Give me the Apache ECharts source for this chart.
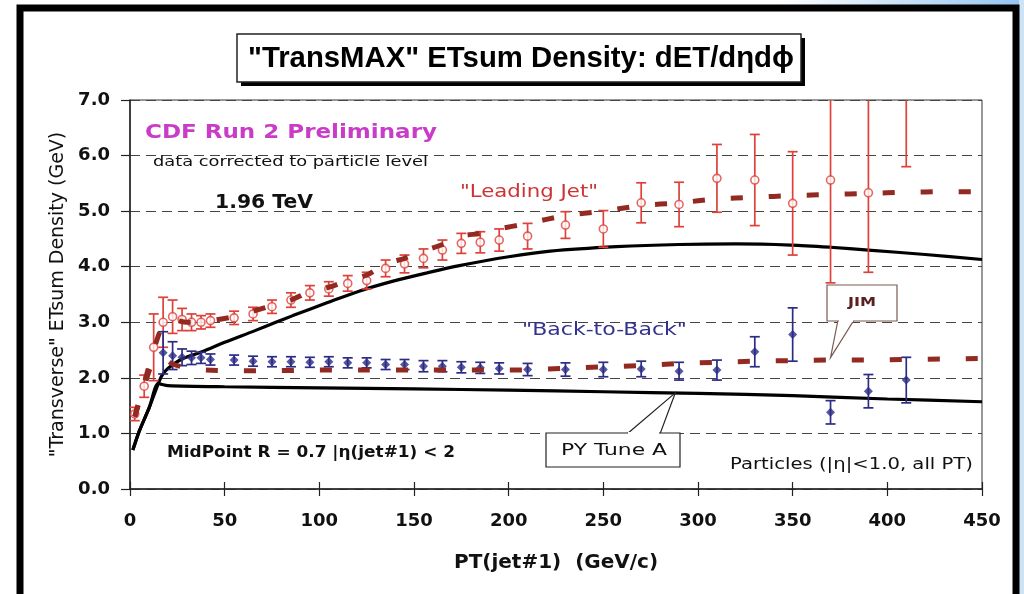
<!DOCTYPE html>
<html>
<head>
<meta charset="utf-8">
<script src="https://cdn.jsdelivr.net/npm/echarts@6/dist/echarts.min.js"></script>
<style>
  html, body { margin: 0; padding: 0; background: #fff; }
  #chart { width: 1024px; height: 594px; }
</style>
</head>
<body>
<div id="chart"></div>
<script>
// ---- data -------------------------------------------------------------
// "Leading Jet" sample: PT(jet#1) bin centres, density, lower / upper uncertainty
const leadPt     = [2.5, 7.5, 12.5, 17.5, 22.5, 27.5, 32.5, 37.5, 42.5, 55, 65, 75, 85, 95, 105, 115, 125, 135, 145, 155, 165, 175, 185, 195, 210, 230, 250, 270, 290, 310, 330, 350, 370, 390, 410];
const leadVal    = [1.35, 1.85, 2.55, 3.00, 3.10, 3.05, 3.00, 3.00, 3.03, 3.08, 3.15, 3.28, 3.40, 3.53, 3.60, 3.70, 3.75, 3.97, 4.05, 4.15, 4.30, 4.42, 4.44, 4.48, 4.55, 4.75, 4.68, 5.15, 5.12, 5.59, 5.56, 5.14, 5.56, 5.33, 7.60];
const leadErrLo  = [0.12, 0.20, 0.60, 0.45, 0.30, 0.20, 0.15, 0.12, 0.12, 0.12, 0.12, 0.12, 0.13, 0.13, 0.13, 0.14, 0.15, 0.15, 0.16, 0.17, 0.18, 0.18, 0.19, 0.20, 0.23, 0.24, 0.33, 0.36, 0.40, 0.61, 0.82, 0.93, 1.85, 1.43, 1.80];
const leadErrHi  = [0.12, 0.20, 0.60, 0.45, 0.30, 0.20, 0.15, 0.12, 0.12, 0.12, 0.12, 0.12, 0.13, 0.13, 0.13, 0.14, 0.15, 0.15, 0.16, 0.17, 0.18, 0.18, 0.19, 0.20, 0.23, 0.24, 0.33, 0.36, 0.40, 0.61, 0.82, 0.93, 1.85, 2.10, 1.80];

// "Back-to-Back" sample
const b2bPt  = [17.5, 22.5, 27.5, 32.5, 37.5, 42.5, 55, 65, 75, 85, 95, 105, 115, 125, 135, 145, 155, 165, 175, 185, 195, 210, 230, 250, 270, 290, 310, 330, 350, 370, 390, 410];
const b2bVal = [2.45, 2.40, 2.37, 2.36, 2.36, 2.33, 2.32, 2.30, 2.29, 2.29, 2.28, 2.29, 2.27, 2.27, 2.24, 2.24, 2.21, 2.21, 2.19, 2.18, 2.17, 2.15, 2.15, 2.15, 2.16, 2.12, 2.14, 2.47, 2.78, 1.38, 1.76, 1.96];
const b2bErr = [0.38, 0.25, 0.15, 0.12, 0.10, 0.10, 0.09, 0.09, 0.09, 0.09, 0.09, 0.09, 0.09, 0.09, 0.09, 0.09, 0.10, 0.10, 0.10, 0.10, 0.10, 0.11, 0.12, 0.13, 0.14, 0.16, 0.18, 0.27, 0.48, 0.21, 0.30, 0.41];

// JIM predictions
const jimLeadPt  = [2.5, 7.5, 12.5, 17.5, 22.5, 30, 40, 55, 65, 75, 85, 95, 105, 115, 125, 135, 145, 155, 165, 175, 185, 195, 210, 230, 250, 270, 290, 310, 330, 350, 370, 390, 410, 430, 450];
const jimLeadVal = [1.30, 1.90, 2.50, 2.95, 3.05, 3.00, 3.02, 3.10, 3.20, 3.30, 3.40, 3.55, 3.63, 3.75, 3.85, 4.05, 4.15, 4.28, 4.40, 4.55, 4.60, 4.68, 4.78, 4.92, 5.00, 5.10, 5.15, 5.22, 5.25, 5.28, 5.30, 5.32, 5.34, 5.35, 5.35];
const jimB2bPt   = [2.5, 7.5, 12.5, 17.5, 22.5, 30, 40, 55, 75, 100, 125, 150, 175, 200, 230, 250, 270, 290, 310, 330, 350, 370, 390, 410, 430, 450];
const jimB2bVal  = [1.30, 1.85, 2.30, 2.35, 2.25, 2.18, 2.14, 2.13, 2.13, 2.14, 2.14, 2.14, 2.14, 2.14, 2.17, 2.20, 2.22, 2.26, 2.28, 2.30, 2.31, 2.32, 2.32, 2.33, 2.34, 2.35];

// PYTHIA Tune A predictions
const pyLeadPt  = [1.5, 5, 10, 15, 17, 20, 27.5, 38, 50, 66, 77, 86, 104, 121, 139, 157, 174, 200, 222, 257, 290, 320, 349, 370, 390, 420, 450];
const pyLeadVal = [0.70, 1.05, 1.45, 1.90, 2.05, 2.17, 2.34, 2.47, 2.64, 2.85, 3.00, 3.12, 3.35, 3.56, 3.74, 3.89, 4.02, 4.18, 4.28, 4.36, 4.40, 4.41, 4.39, 4.35, 4.30, 4.22, 4.13];
const pyB2bPt   = [1.5, 5, 10, 15, 17, 20, 50, 100, 150, 200, 250, 300, 350, 400, 450];
const pyB2bVal  = [0.70, 1.05, 1.45, 1.90, 1.88, 1.86, 1.84, 1.82, 1.80, 1.78, 1.75, 1.72, 1.68, 1.62, 1.57];

// axis ticks
const xTicks = [0, 50, 100, 150, 200, 250, 300, 350, 400, 450];
const yTicks = [0, 1, 2, 3, 4, 5, 6, 7];

// ---- helpers ----------------------------------------------------------
const zip = (xs, ys) => xs.map((x, i) => [x, ys[i]]);
const bars = (xs, ys, lo, hi) => xs.map((x, i) => [x, ys[i] - lo[i], ys[i] + hi[i]]);
const Y_MIN = yTicks[0], Y_MAX = yTicks[yTicks.length - 1];

function errorBars(color, capHalf) {
  return function (params, api) {
    const x = api.value(0);
    const rawLo = api.value(1), rawHi = api.value(2);
    const lo = Math.max(rawLo, Y_MIN), hi = Math.min(rawHi, Y_MAX);
    if (lo >= hi) return null;
    const pLo = api.coord([x, lo]);
    const pHi = api.coord([x, hi]);
    const st = { stroke: color, lineWidth: 1.7 };
    const kids = [{ type: 'line', shape: { x1: pLo[0], y1: pLo[1], x2: pHi[0], y2: pHi[1] }, style: st }];
    if (rawLo >= Y_MIN) kids.push({ type: 'line', shape: { x1: pLo[0] - capHalf, y1: pLo[1], x2: pLo[0] + capHalf, y2: pLo[1] }, style: st });
    if (rawHi <= Y_MAX) kids.push({ type: 'line', shape: { x1: pHi[0] - capHalf, y1: pHi[1], x2: pHi[0] + capHalf, y2: pHi[1] }, style: st });
    return { type: 'group', children: kids };
  };
}

// text stretched horizontally to a given width
const measureCtx = document.createElement('canvas').getContext('2d');
function label(text, font, color, x, y, width, align) {
  measureCtx.font = font;
  const w = measureCtx.measureText(text).width;
  return { type: 'text', x: x, y: y, scaleX: width / w, z: 30,
           style: { text: text, font: font, fill: color, align: align || 'left', verticalAlign: 'middle' } };
}

const RED = '#de403a', BLUE = '#2c2c86', JIM = '#922a22';
const SANS = '"DejaVu Sans", Verdana, sans-serif';
const ARIAL = '"Liberation Sans", Arial, sans-serif';

const chart = echarts.init(document.getElementById('chart'), null, { renderer: 'canvas' });

chart.setOption({
  backgroundColor: '#ffffff',
  animation: false,
  grid: { left: 130, right: 42, top: 100, bottom: 105, show: true, borderColor: '#333', borderWidth: 1 },
  xAxis: [{
    type: 'value', min: xTicks[0], max: xTicks[xTicks.length - 1], interval: 50,
    axisLine: { show: true, onZero: false, lineStyle: { color: '#222', width: 1.5 } },
    axisTick: { show: true, inside: false, length: 7, lineStyle: { color: '#222', width: 1.2 } },
    axisLabel: { margin: 23, color: '#111', fontSize: 18, fontWeight: 'bold', fontFamily: SANS },
    splitLine: { show: false },
    name: 'PT(jet#1)  (GeV/c)', nameLocation: 'middle', nameGap: 64,
    nameTextStyle: { color: '#111', fontSize: 20, fontWeight: 'bold', fontFamily: SANS }
  }, {
    type: 'value', position: 'bottom', min: xTicks[0], max: xTicks[xTicks.length - 1], interval: 50,
    axisLine: { show: false },
    axisTick: { show: true, inside: true, length: 7, lineStyle: { color: '#222', width: 1.2 } },
    axisLabel: { show: false }, splitLine: { show: false }
  }],
  yAxis: {
    type: 'value', min: Y_MIN, max: Y_MAX, interval: 1,
    axisLine: { show: true, onZero: false, lineStyle: { color: '#222', width: 1.5 } },
    axisTick: { show: true, inside: false, length: 9, lineStyle: { color: '#222', width: 1.2 } },
    axisLabel: { margin: 20, color: '#111', fontSize: 18, fontWeight: 'bold', fontFamily: SANS,
                 formatter: v => v.toFixed(1) },
    splitLine: { show: true, lineStyle: { color: '#444', width: 1.2, type: [10, 6] } },
    name: '"Transverse" ETsum Density (GeV)', nameLocation: 'middle', nameGap: 62,
    nameTextStyle: { color: '#111', fontSize: 19, fontFamily: SANS }
  },
  series: [
    { type: 'line', name: 'PY Tune A leading', data: zip(pyLeadPt, pyLeadVal), smooth: 0.3, symbol: 'none',
      lineStyle: { color: '#000', width: 3.2 }, z: 3 },
    { type: 'line', name: 'PY Tune A back-to-back', data: zip(pyB2bPt, pyB2bVal), smooth: 0.3, symbol: 'none',
      lineStyle: { color: '#000', width: 3.2 }, z: 3 },
    { type: 'custom', name: 'Leading Jet errors', renderItem: errorBars(RED, 5),
      data: bars(leadPt, leadVal, leadErrLo, leadErrHi), encode: { x: 0, y: [1, 2] }, z: 5 },
    { type: 'custom', name: 'Back-to-Back errors', renderItem: errorBars(BLUE, 5),
      data: bars(b2bPt, b2bVal, b2bErr, b2bErr), encode: { x: 0, y: [1, 2] }, z: 5 },
    { type: 'scatter', name: 'Leading Jet', data: zip(leadPt, leadVal).filter(p => p[1] <= Y_MAX),
      symbol: 'circle', symbolSize: 8, itemStyle: { color: '#fff', borderColor: RED, borderWidth: 1.6 }, z: 6 },
    { type: 'scatter', name: 'Back-to-Back', data: zip(b2bPt, b2bVal),
      symbol: 'diamond', symbolSize: 9, itemStyle: { color: BLUE }, z: 6 },
    { type: 'line', name: 'JIM leading', data: zip(jimLeadPt, jimLeadVal), smooth: 0.3, symbol: 'none',
      lineStyle: { color: JIM, width: 5, type: [12, 26], cap: 'butt' }, z: 7 },
    { type: 'line', name: 'JIM back-to-back', data: zip(jimB2bPt, jimB2bVal), smooth: 0.3, symbol: 'none',
      lineStyle: { color: JIM, width: 5, type: [12, 26], cap: 'butt' }, z: 7 }
  ]
});

// ---- annotations ------------------------------------------------------
const jimTip = chart.convertToPixel({ gridIndex: 0 }, [370, 2.31]);
const pyTip  = chart.convertToPixel({ gridIndex: 0 }, [288, 1.73]);

chart.setOption({
  graphic: [
    // slide backdrop strip and outer frame
    { type: 'rect', shape: { x: 780, y: 0, width: 244, height: 6 }, silent: true,
      style: { fill: new echarts.graphic.LinearGradient(0, 0, 1, 0, [{ offset: 0, color: '#ffffff' }, { offset: 1, color: '#94c4f2' }]) } },
    { type: 'rect', shape: { x: 1019, y: 0, width: 5, height: 594 }, silent: true, style: { fill: '#cfe3f7' } },
    { type: 'rect', shape: { x: 20, y: 8, width: 996, height: 600 }, silent: true, z: 100,
      style: { fill: 'none', stroke: '#000', lineWidth: 7 } },

    // title box with drop shadow
    { type: 'rect', shape: { x: 241, y: 38, width: 564, height: 48 }, style: { fill: '#000' }, z: 10 },
    { type: 'rect', shape: { x: 237, y: 34, width: 564, height: 48 }, style: { fill: '#fff', stroke: '#222', lineWidth: 1.5 }, z: 11 },
    label('"TransMAX" ETsum Density: dET/d\u03B7d\u03D5', 'bold 29px ' + ARIAL, '#000', 521, 59, 546, 'center'),

    // labels inside the plot
    label('CDF Run 2 Preliminary', 'bold 20px ' + SANS, '#c83cc8', 145, 133, 292),
    label('data corrected to particle level', '14px ' + SANS, '#111', 153, 162, 275),
    label('1.96 TeV', 'bold 19px ' + SANS, '#111', 215, 203, 98),
    label('"Leading Jet"', '17px ' + SANS, '#cc3333', 460, 193, 138),
    label('"Back-to-Back"', '17px ' + SANS, '#33338f', 522, 331, 165),
    label('MidPoint R = 0.7 |\u03B7(jet#1) < 2', 'bold 15px ' + SANS, '#111', 167, 453, 288),
    label('Particles (|\u03B7|<1.0, all PT)', '15px ' + SANS, '#111', 973, 465, 243, 'right'),

    // JIM callout
    { type: 'polygon', z: 21, shape: { points: [[838, 320], [jimTip[0], jimTip[1] - 3], [854, 320]] },
      style: { fill: '#fff', stroke: '#7a5a50', lineWidth: 1.2 } },
    { type: 'rect', z: 22, shape: { x: 827, y: 285, width: 70, height: 36 }, style: { fill: '#fff', stroke: '#7a5a50', lineWidth: 1.2 } },
    { type: 'rect', z: 23, shape: { x: 839, y: 319, width: 14, height: 3 }, style: { fill: '#fff' } },
    label('JIM', 'bold 13px ' + SANS, '#5a2020', 862, 303, 28, 'center'),

    // PY Tune A callout
    { type: 'polygon', z: 21, shape: { points: [[627, 434], [pyTip[0], pyTip[1]], [660, 434]] },
      style: { fill: '#fff', stroke: '#222', lineWidth: 1.2 } },
    { type: 'rect', z: 22, shape: { x: 546, y: 433, width: 134, height: 34 }, style: { fill: '#fff', stroke: '#222', lineWidth: 1.2 } },
    { type: 'rect', z: 23, shape: { x: 628, y: 432, width: 31, height: 3 }, style: { fill: '#fff' } },
    label('PY Tune A', '16px ' + SANS, '#111', 614, 451, 106, 'center')
  ]
});
</script>
</body>
</html>
